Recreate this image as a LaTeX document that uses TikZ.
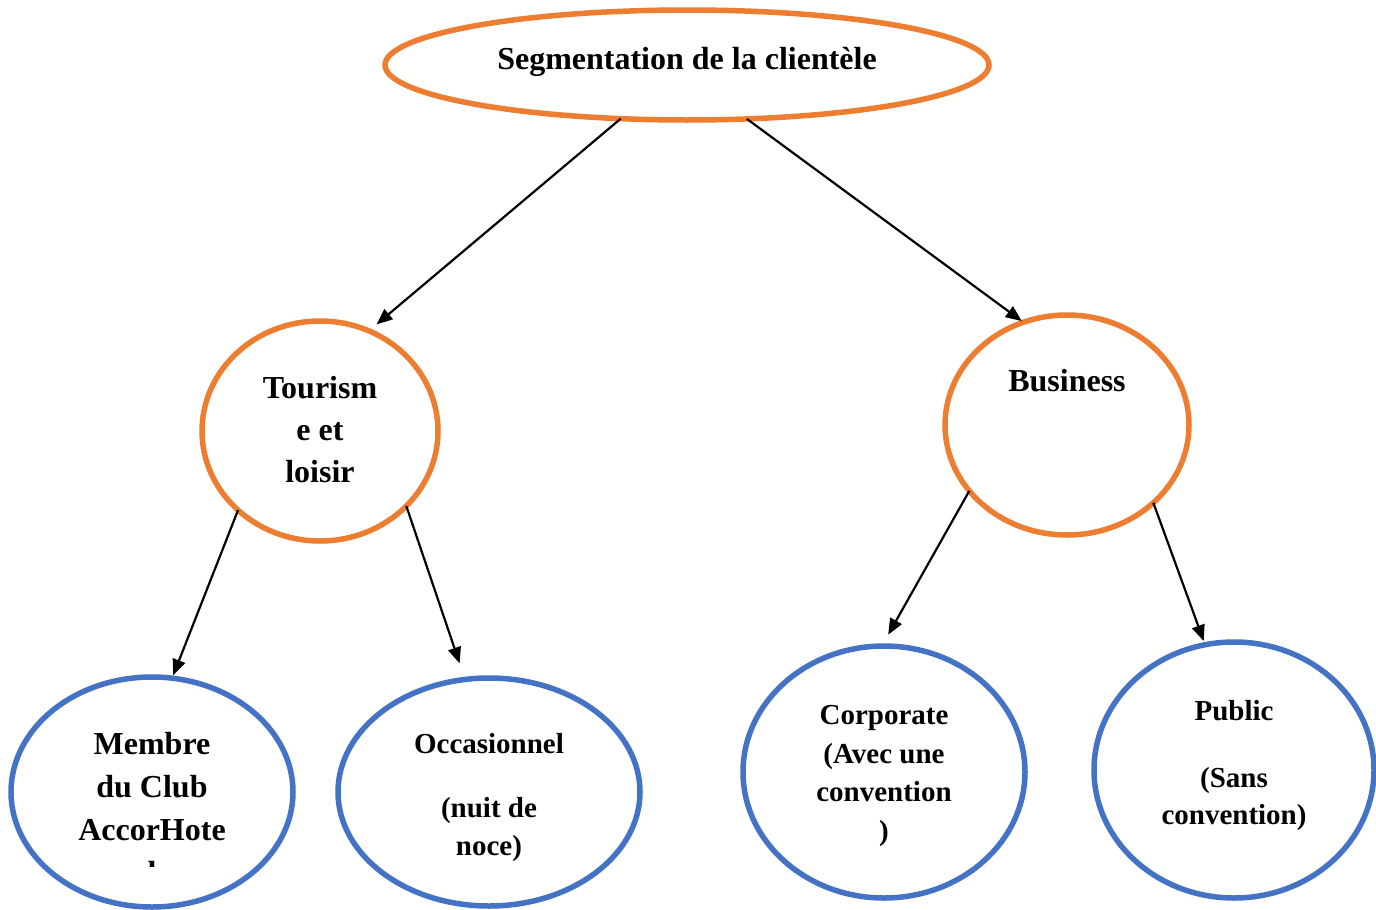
\documentclass[tikz,border=0pt]{standalone}
\usepackage{fontspec}
\setmainfont{Liberation Serif}
\usetikzlibrary{shapes.geometric,arrows.meta}
\definecolor{segorange}{HTML}{ED7D31}
\definecolor{segblue}{HTML}{4472C4}
\tikzset{
  oval/.style={ellipse,draw,line width=5.5pt,inner sep=0pt,outer sep=0pt,fill=white},
  upper/.style={oval,draw=segorange},
  lower/.style={oval,draw=segblue},
  bigtxt/.style={anchor=north,inner sep=0pt,align=center,
    font=\bfseries\fontsize{32pt}{42pt}\selectfont},
  smalltxt/.style={anchor=north,inner sep=0pt,align=center,
    font=\bfseries\fontsize{29pt}{38pt}\selectfont},
  link/.style={line width=2.2pt,-{Triangle[length=16pt,width=13pt]}}
}
\begin{document}
\begin{tikzpicture}[x=1pt,y=-1pt]
\useasboundingbox (0,0) rectangle (1376,910);

% ellipses
\node[upper,minimum width=604pt,minimum height=110pt] (top) at (687,65) {};
\node[upper,minimum width=236pt,minimum height=220pt] (tour) at (320,431) {};
\node[upper,minimum width=244pt,minimum height=220pt] (bus) at (1067,425) {};
\node[lower,minimum width=282pt,minimum height=230pt] (mem) at (152,792) {};
\node[lower,minimum width=302pt,minimum height=228pt] (occ) at (489,792) {};
\node[lower,minimum width=282pt,minimum height=252pt] (corp) at (884,772) {};
\node[lower,minimum width=280pt,minimum height=256pt] (pub) at (1234,770) {};

% labels
\node[bigtxt] (ttop) at (687,47) {Segmentation de la clientèle};
\node[bigtxt] (ttour) at (320,375.8) {Tourism\\e et\\loisir};
\node[bigtxt] (tbus) at (1067,369.5) {Business};
\begin{scope}
  \clip (0,0) rectangle (1376,866);
  \node[bigtxt,font=\bfseries\fontsize{32pt}{43pt}\selectfont] (tmem) at (152,732.5)
    {Membre\\du Club\\AccorHote\\l};
\end{scope}
\node[smalltxt] (tocc) at (489,733.4) {Occasionnel\\[26pt](nuit de\\noce)};
\node[smalltxt,font=\bfseries\fontsize{29pt}{38.5pt}\selectfont] (tcorp) at (884,705.5)
  {Corporate\\(Avec une\\convention\\)};
\node[smalltxt,font=\bfseries\fontsize{29pt}{37.5pt}\selectfont] (tpub) at (1234,700.4)
  {Public\\[29pt](Sans\\convention)};

% connectors
\draw[link,shorten >=10pt] (top.219) -- (tour.64);
\draw[link,shorten >=2pt] (top.318) -- (bus.113);
\draw[link,shorten >=3pt] (tour.224) -- (mem.80);
\draw[link,shorten >=17pt] (tour.319) -- (occ.102);
\draw[link,shorten >=13pt] (bus.214) -- (corp.91);
\draw[link,shorten >=4pt] (bus.318) -- (pub.103);
\end{tikzpicture}
\end{document}
